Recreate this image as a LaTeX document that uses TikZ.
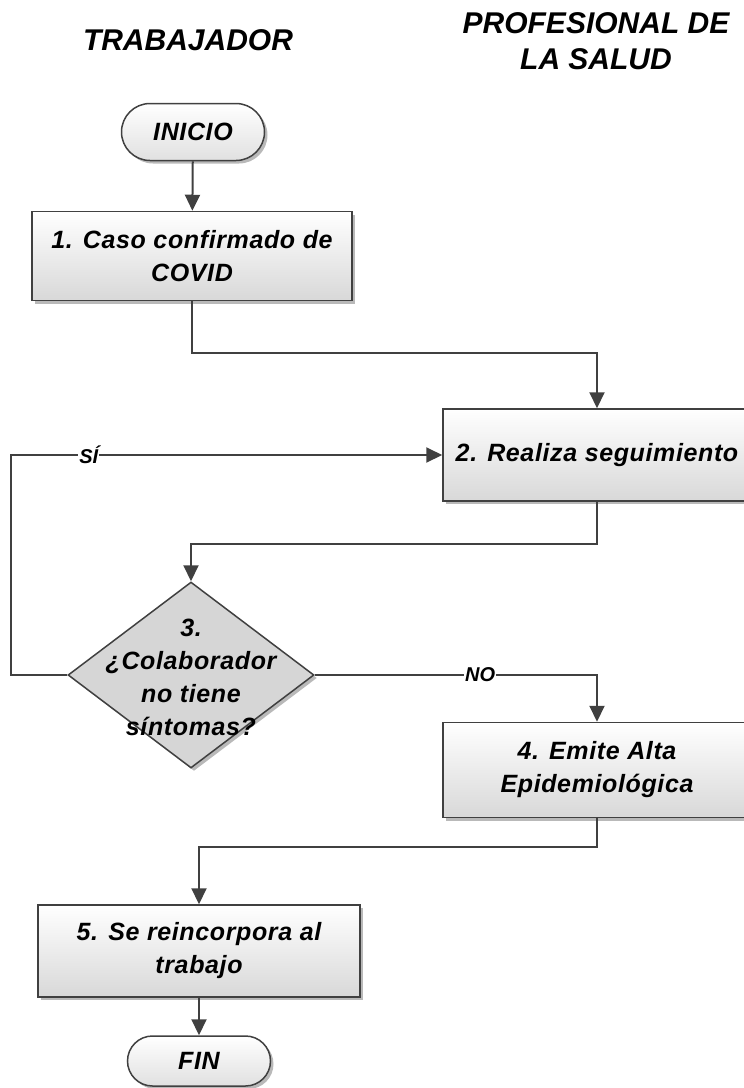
\documentclass[tikz,border=0pt]{standalone}
\usepackage{fontspec}
\setmainfont{Liberation Sans}
\newfontfamily\boxfont[LetterSpace=2.5]{Liberation Sans}
\usetikzlibrary{arrows.meta,shapes.geometric,shapes.misc,shadows}
\definecolor{linec}{HTML}{404040}
\definecolor{boxg}{HTML}{D8D8D8}
\definecolor{diag}{HTML}{D6D6D6}
\definecolor{shad}{HTML}{A8A8A8}
\begin{document}
\begin{tikzpicture}[x=1pt,y=-1pt,
  title/.style={font=\bfseries\itshape\fontsize{30}{36}\selectfont, align=center, inner sep=0pt},
  txt/.style={font=\boxfont\bfseries\itshape\fontsize{25}{33}\selectfont, align=center},
  sh/.style={drop shadow={shadow xshift=3pt, shadow yshift=-3pt, fill=shad, opacity=0.8}},
  proc/.style={rectangle, draw=linec, line width=1.5pt, top color=white, bottom color=boxg, sh, txt, inner sep=0pt},
  term/.style={rounded rectangle, draw=linec, line width=1.5pt, top color=white, bottom color=white!88!black, sh, txt, inner sep=0pt, minimum width=143pt},
  dec/.style={diamond, draw=linec, line width=1.5pt, fill=diag, sh, inner sep=0pt, minimum width=246pt, minimum height=186pt},
  arr/.style={draw=linec, line width=2pt, -{Triangle[length=16pt,width=15pt]}},
  lab/.style={fill=white, inner sep=1pt, font=\bfseries\itshape\fontsize{20}{24}\selectfont, text=black}
]
\useasboundingbox (0,0) rectangle (744,1088);

\node[title] (t1) at (188,40) {TRABAJADOR};
\node[title] (t2) at (596,41) {PROFESIONAL DE\\LA SALUD};

\node[term, minimum height=57pt] (ini) at (193,132) {INICIO};
\node[proc, minimum width=320pt, minimum height=89pt] (b1) at (192,256) {1. Caso confirmado de\\COVID};
\node[proc, minimum width=308pt, minimum height=92pt] (b2) at (597,455) {2. Realiza seguimiento};
\node[dec] (dia) at (191,675) {};
\node[txt] (diat) at (191,677) {3.\\¿Colaborador\\no tiene\\síntomas?};
\node[proc, minimum width=308pt, minimum height=95pt] (b4) at (597,770) {4. Emite Alta\\Epidemiológica};
\node[proc, minimum width=322pt, minimum height=92pt] (b5) at (199,951) {5. Se reincorpora al\\trabajo};
\node[term, minimum height=50pt] (fin) at (199,1061) {FIN};

\draw[arr] (ini) -- (b1);
\draw[arr] (b1.south) -- ++(0,52) -| (b2.north);
\draw[arr] (b2.south) -- ++(0,42) -| (dia.north);
\draw[arr] (dia.west) -- ++(-56,0) |- node[lab, pos=0.59] {SÍ} (b2.west);
\draw[arr] (dia.east) -| node[lab, pos=0.293] {NO} (b4.north);
\draw[arr] (b4.south) -- ++(0,29) -| (b5.north);
\draw[arr] (b5) -- (fin);
\end{tikzpicture}
\end{document}
